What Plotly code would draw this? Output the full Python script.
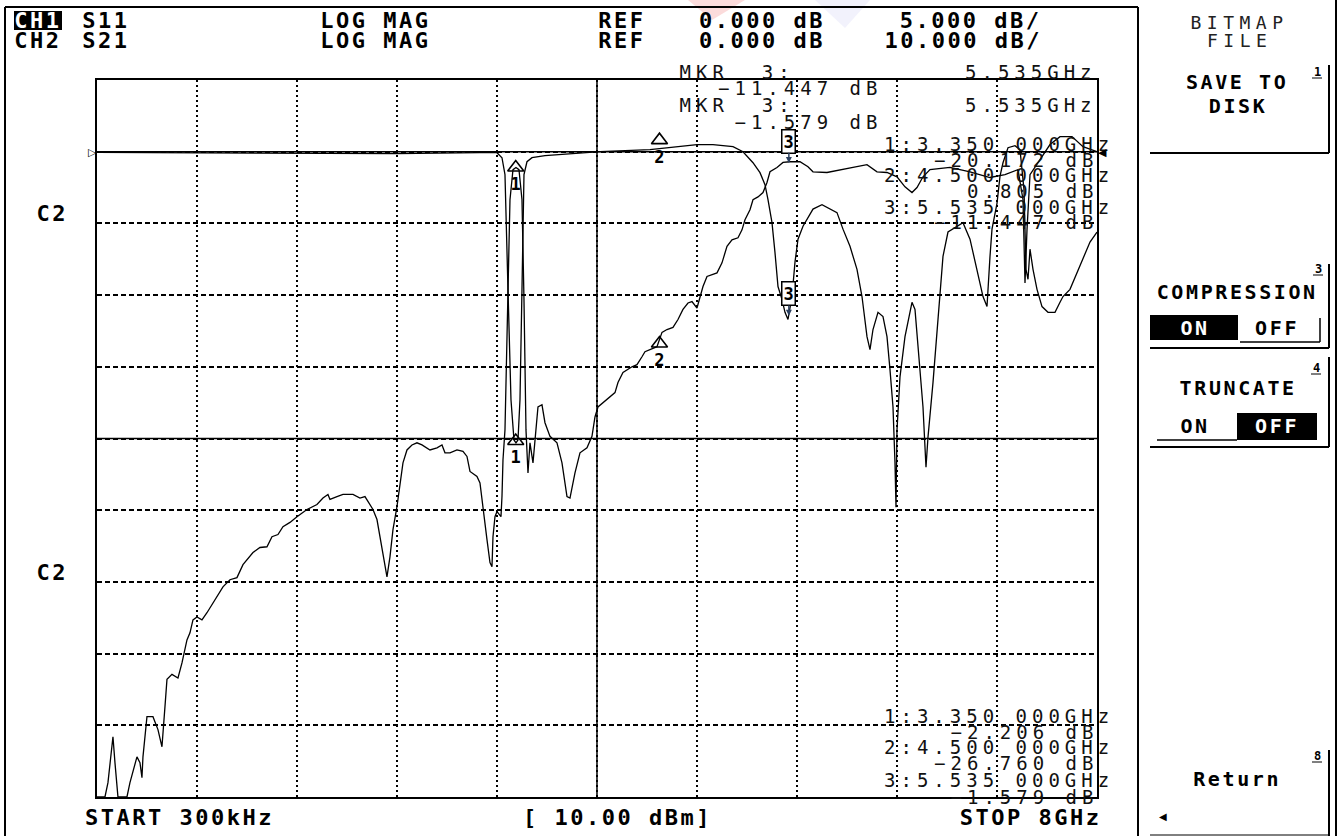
import plotly.graph_objects as go

# ---------------- data (GHz, dB) ----------------
freq_s21 = [0.0003, 0.064, 0.088, 0.12, 0.128, 0.144, 0.168, 0.24, 0.264, 0.32, 0.344, 0.36, 0.368, 0.40, 0.448,
            0.488, 0.52, 0.544, 0.56, 0.60, 0.648, 0.68, 0.72, 0.744, 0.768, 0.80, 0.84, 0.88, 0.928, 1.008,
            1.064, 1.12, 1.168, 1.248, 1.304, 1.36, 1.40, 1.448, 1.488, 1.544, 1.60, 1.68, 1.76, 1.808, 1.848,
            1.864, 1.92, 1.968, 2.048, 2.104, 2.144, 2.168, 2.208, 2.24, 2.28, 2.32, 2.344, 2.368, 2.40, 2.424,
            2.448, 2.48, 2.52, 2.56, 2.60, 2.664, 2.72, 2.76, 2.784, 2.824, 2.88, 2.928, 2.96, 2.984, 3.04,
            3.064, 3.088, 3.12, 3.144, 3.16, 3.168, 3.184, 3.20, 3.232, 3.24, 3.248, 3.264, 3.288, 3.304, 3.328,
            3.352, 3.376, 3.40, 3.416, 3.432, 3.448, 3.464, 3.488, 3.528, 3.56, 3.584, 3.624, 3.68, 3.72, 3.76,
            3.784, 3.824, 3.864, 3.92, 3.96, 3.984, 4.008, 4.08, 4.144, 4.168, 4.208, 4.28, 4.32, 4.36, 4.384,
            4.48, 4.52, 4.56, 4.608, 4.648, 4.688, 4.728, 4.76, 4.80, 4.824, 4.848, 4.88, 4.96, 5.00, 5.04,
            5.08, 5.128, 5.16, 5.184, 5.224, 5.248, 5.288, 5.328, 5.36, 5.384, 5.44, 5.488, 5.544, 5.624, 5.688,
            5.728, 5.84, 5.944, 6.048, 6.16, 6.24, 6.32, 6.40, 6.464, 6.52, 6.56, 6.608, 6.664, 6.824, 6.984,
            7.144, 7.264, 7.368, 7.408, 7.424, 7.44, 7.464, 7.544, 7.624, 7.704, 7.80, 7.888, 8.0]
s21_db = [-90.0, -90.0, -88.0, -83.4, -81.6, -85.2, -90.0, -90.0, -88.0, -84.4, -85.2, -87.3, -84.4, -78.8, -78.8,
          -80.6, -83.0, -77.4, -73.6, -72.9, -73.4, -71.3, -68.1, -67.1, -65.3, -64.9, -65.3, -64.3, -62.9, -60.7,
          -59.7, -59.4, -57.6, -55.9, -55.2, -55.1, -53.7, -53.4, -52.3, -51.7, -50.9, -49.9, -49.2, -48.3, -47.8,
          -48.5, -48.1, -47.8, -47.8, -48.3, -48.1, -48.8, -49.9, -51.3, -55.1, -59.3, -56.5, -52.7, -49.5, -46.2,
          -43.4, -41.6, -40.9, -40.6, -40.9, -41.6, -41.3, -40.9, -42.0, -42.0, -41.6, -41.8, -42.5, -44.6, -45.3,
          -46.2, -49.9, -54.1, -57.3, -57.9, -53.7, -50.9, -50.2, -50.9, -48.1, -43.0, -38.8, -20.6, -6.7, -2.5,
          -2.2, -2.5, -6.7, -20.6, -38.8, -44.8, -40.6, -43.4, -35.6, -35.3, -37.8, -39.7, -40.6, -43.4, -48.1,
          -48.3, -44.8, -42.0, -41.3, -39.7, -37.0, -35.6, -34.6, -33.6, -32.2, -30.8, -30.0, -29.7, -28.6, -27.9,
          -27.2, -25.2, -24.8, -24.5, -23.4, -22.0, -21.1, -20.9, -21.8, -20.2, -18.8, -17.4, -16.9, -15.5, -13.2,
          -12.3, -12.0, -10.9, -9.5, -8.1, -6.7, -6.3, -5.7, -4.3, -2.8, -2.2, -1.5, -1.4, -1.4, -2.1,
          -2.8, -2.9, -2.5, -2.2, -1.8, -2.8, -2.9, -3.5, -4.9, -5.7, -5.0, -3.5, -2.5, -2.2, -2.8,
          -3.6, -3.2, -2.5, -6.7, -18.3, -10.9, -3.2, -1.1, 1.0, 2.1, 2.1, 0.7, 0.0]

freq_s11 = [0.0003, 0.8, 1.6, 2.4, 3.064, 3.2, 3.24, 3.264, 3.288, 3.312, 3.336, 3.352, 3.368, 3.384, 3.40,
            3.416, 3.44, 3.48, 3.584, 3.864, 4.024, 4.424, 4.80, 4.928, 5.088, 5.168, 5.248, 5.304, 5.344, 5.368,
            5.40, 5.424, 5.448, 5.48, 5.504, 5.528, 5.56, 5.584, 5.608, 5.648, 5.728, 5.80, 5.92, 5.968, 6.024,
            6.08, 6.12, 6.16, 6.184, 6.208, 6.248, 6.288, 6.32, 6.344, 6.368, 6.384, 6.392, 6.40, 6.424, 6.464,
            6.52, 6.544, 6.568, 6.608, 6.632, 6.648, 6.688, 6.728, 6.768, 6.808, 6.88, 6.928, 6.984, 7.04, 7.088,
            7.12, 7.128, 7.144, 7.16, 7.20, 7.224, 7.248, 7.288, 7.344, 7.384, 7.416, 7.432, 7.448, 7.464, 7.488,
            7.52, 7.56, 7.608, 7.664, 7.704, 7.728, 7.784, 7.84, 7.888, 7.944, 8.0]
s11_db = [-0.05, -0.07, -0.1, -0.14, -0.07, -0.07, -0.42, -1.6, -9.6, -17.3, -20.1, -20.3, -20.1, -17.3, -9.6,
          -1.6, -0.7, -0.42, -0.28, -0.07, 0.0, 0.14, 0.49, 0.49, 0.35, 0.0, -0.77, -1.46, -2.3, -3.35,
          -4.95, -7.04, -9.4, -10.3, -11.2, -11.7, -10.1, -7.7, -6.1, -5.2, -4.0, -3.7, -4.25, -5.4, -6.6,
          -8.2, -10.1, -12.9, -13.8, -12.4, -11.2, -11.5, -12.9, -15.2, -17.8, -21.7, -24.8, -19.4, -15.7, -12.9,
          -10.5, -11.0, -13.6, -17.8, -22.0, -19.9, -16.1, -11.5, -7.3, -5.6, -5.2, -4.95, -6.1, -8.2, -10.1,
          -10.8, -9.4, -7.3, -5.4, -3.6, -1.7, -0.77, 0.28, 0.42, 0.14, -2.65, -8.2, -8.9, -6.8, -8.2,
          -9.6, -10.8, -11.2, -11.2, -10.5, -10.1, -9.6, -8.4, -7.5, -6.3, -5.6]

marker_freq = [3.35, 4.5, 5.535]
marker_s11 = [-20.172, 0.805, -11.447]
marker_s21 = [-2.206, -26.760, -1.579]
marker_labels = ["1", "2", "3"]

start_label = "START 300kHz"
stop_label = "STOP 8GHz"
power_label = "[ 10.00 dBm]"

# ---------------- layout helpers (pixel -> paper) ----------------
L, R, T, B = 97, 1097, 80, 797
def X(px):
    return (px - L) / (R - L)
def Y(py):
    return (B - py) / (B - T)

# font kinds: (font dict, char advance, letter spacing applied by script)
KINDS = {
    "bold": (dict(family="DejaVu Sans Mono", size=22, color="black", weight="bold"), 13.25, 2.5),
    "thin": (dict(family="DejaVu Sans Mono", size=19, color="#111111"), 11.44, 5.0),
    "sk": (dict(family="DejaVu Sans Mono", size=20, color="black", weight="bold"), 12.04, 2.6),
    "skthin": (dict(family="DejaVu Sans Mono", size=18, color="#222222"), 10.84, 5.5),
}

ann = []

def ptxt(py, s, kind, left=None, right=None, center=None, color=None):
    font, adv, sp = KINDS[kind]
    f = dict(font)
    if color:
        f["color"] = color
    w = len(s) * (adv + sp) - sp
    if center is None:
        center = left + w / 2 if left is not None else right - w / 2
    ann.append(dict(x=X(center), y=Y(py), xref="paper", yref="paper", text=s, showarrow=False,
                    xanchor="center", yanchor="middle", font=f))

def stxt(px, py, s, font):
    ann.append(dict(x=X(px), y=Y(py), xref="paper", yref="paper", text=s, showarrow=False,
                    xanchor="center", yanchor="middle", font=font))

fig = go.Figure()
fig.add_trace(go.Scatter(x=freq_s11, y=s11_db, mode="lines", line=dict(color="black", width=1.3),
                         yaxis="y", showlegend=False, hoverinfo="skip"))
fig.add_trace(go.Scatter(x=freq_s21, y=s21_db, mode="lines", line=dict(color="black", width=1.3),
                         yaxis="y2", showlegend=False, hoverinfo="skip"))

MK_FONT = dict(family="DejaVu Sans Mono", size=17, color="black", weight="bold")
for yax, vals in (("y", marker_s11), ("y2", marker_s21)):
    fig.add_trace(go.Scatter(x=marker_freq[:2], y=vals[:2], mode="markers+text", yaxis=yax,
                             text=marker_labels[:2], textposition="bottom center", textfont=MK_FONT,
                             marker=dict(symbol="triangle-up-open", size=14, color="black", line=dict(width=1.6)),
                             showlegend=False, hoverinfo="skip"))
    ann.append(dict(x=marker_freq[2], y=vals[2], xref="x", yref=yax, text=marker_labels[2],
                    showarrow=True, arrowhead=2, arrowsize=0.8, arrowwidth=1.5, ax=0, ay=-22,
                    bordercolor="black", borderwidth=1.5, borderpad=1, bgcolor="white", font=MK_FONT))

# header
ptxt(20, "CH1", "bold", center=38, color="white")
ptxt(20, "S11", "bold", left=84)
ptxt(20, "LOG MAG", "bold", left=322)
ptxt(20, "REF", "bold", left=600)
ptxt(20, "0.000 dB", "bold", left=700)
ptxt(20, "5.000 dB/", "bold", right=1040)
ptxt(40, "CH2", "bold", left=16)
ptxt(40, "S21", "bold", left=84)
ptxt(40, "LOG MAG", "bold", left=322)
ptxt(40, "REF", "bold", left=600)
ptxt(40, "0.000 dB", "bold", left=700)
ptxt(40, "10.000 dB/", "bold", right=1040)

# left labels
ptxt(213, "C2", "bold", center=52)
ptxt(572, "C2", "bold", center=52)

# marker readouts
fs = lambda v: ("%.3f" % v).replace("-", "\u2212")
ptxt(72, "MKR  3:", "thin", left=682)
ptxt(72, "%.3fGHz" % marker_freq[2], "thin", right=1094)
ptxt(88, fs(marker_s11[2]) + " dB", "thin", right=880)
ptxt(105, "MKR  3:", "thin", left=682)
ptxt(105, "%.3fGHz" % marker_freq[2], "thin", right=1094)
ptxt(122, fs(marker_s21[2]) + " dB", "thin", right=880)
top_rows = [144, 160, 175, 191, 207, 222]
bot_rows = [716, 732, 747, 763, 780, 797]
for i in range(3):
    ptxt(top_rows[2 * i], "%s:%.3f 000GHz" % (marker_labels[i], marker_freq[i]), "thin", right=1112)
    ptxt(top_rows[2 * i + 1], fs(marker_s11[i]) + " dB", "thin", right=1096)
    ptxt(bot_rows[2 * i], "%s:%.3f 000GHz" % (marker_labels[i], marker_freq[i]), "thin", right=1112)
    ptxt(bot_rows[2 * i + 1], fs(marker_s21[i]) + " dB", "thin", right=1096)

# bottom row
ptxt(818, start_label, "bold", left=86)
ptxt(818, power_label, "bold", left=524)
ptxt(818, stop_label, "bold", right=1100)

# reference pointers
stxt(92, 152, "\u25B7", dict(family="DejaVu Sans", size=11, color="black"))
stxt(1102, 152, "\u25C0", dict(family="DejaVu Sans", size=11, color="black"))

# softkey panel
SMALL = dict(family="DejaVu Sans Mono", size=12, color="black", weight="bold")
ptxt(23, "BITMAP", "skthin", center=1239)
ptxt(41, "FILE", "skthin", center=1239)
ptxt(82, "SAVE TO", "sk", center=1237)
ptxt(106, "DISK", "sk", center=1238)
stxt(1317, 72, "1", SMALL)
ptxt(292, "COMPRESSION", "sk", center=1237)
stxt(1318, 269, "3", SMALL)
ptxt(328, "ON", "sk", center=1195, color="white")
ptxt(328, "OFF", "sk", center=1277)
ptxt(388, "TRUNCATE", "sk", center=1238)
stxt(1316, 368, "4", SMALL)
ptxt(426, "ON", "sk", center=1195)
ptxt(426, "OFF", "sk", center=1277, color="white")
ptxt(779, "Return", "sk", center=1237)
stxt(1317, 756, "8", SMALL)
stxt(1163, 816, "\u25C0", dict(family="DejaVu Sans", size=10, color="black"))

shapes = []
def line(x0, y0, x1, y1, w=1.5):
    shapes.append(dict(type="line", xref="paper", yref="paper", x0=X(x0), y0=Y(y0), x1=X(x1), y1=Y(y1),
                       line=dict(color="black", width=w)))
def rect(x0, y0, x1, y1, fill="black"):
    shapes.append(dict(type="rect", xref="paper", yref="paper", x0=X(x0), y0=Y(y0), x1=X(x1), y1=Y(y1),
                       line=dict(width=0), fillcolor=fill, layer="below"))

# faint watermark at the top
shapes.append(dict(type="path", xref="paper", yref="paper",
                   path="M %f %f L %f %f L %f %f Z" % (X(688), Y(0), X(745), Y(0), X(712), Y(20)),
                   fillcolor="rgba(235,90,90,0.22)", line=dict(width=0), layer="below"))
shapes.append(dict(type="path", xref="paper", yref="paper",
                   path="M %f %f L %f %f L %f %f Z" % (X(815), Y(0), X(870), Y(0), X(845), Y(28)),
                   fillcolor="rgba(130,130,230,0.10)", line=dict(width=0), layer="below"))

# screen frame
line(5, 7, 1138, 7, 2)
line(5, 7, 5, 836, 2)
line(1138, 7, 1138, 836, 2)
line(1336, 0, 1336, 836, 2)
# CH1 highlight
rect(14, 11, 62, 30)
# softkey brackets
line(1329, 65, 1329, 153, 2); line(1150, 153, 1329, 153, 2); line(1312, 78, 1322, 78, 1)
line(1329, 264, 1329, 348, 2); line(1150, 348, 1329, 348, 2); line(1313, 275, 1323, 275, 1)
rect(1150, 315, 1238, 340)
line(1240, 342, 1320, 342, 1.5); line(1320, 318, 1320, 342, 1.5)
line(1329, 357, 1329, 447, 2); line(1150, 447, 1329, 447, 2); line(1311, 374, 1321, 374, 1)
line(1157, 440, 1237, 440, 1.5)
rect(1237, 413, 1317, 440)
line(1329, 750, 1329, 836, 2); line(1150, 835, 1329, 835, 1); line(1312, 762, 1322, 762, 1)

# reference line (0 dB) and centre lines, in data coordinates
shapes.append(dict(type="line", xref="paper", yref="y", x0=0.0, x1=1.0, y0=0, y1=0,
                   line=dict(color="black", width=1.5)))
shapes.append(dict(type="line", xref="paper", yref="y", x0=0.0, x1=1.0, y0=-20, y1=-20,
                   line=dict(color="black", width=1.5)))
shapes.append(dict(type="line", xref="x", yref="paper", x0=4.0, x1=4.0, y0=0, y1=1,
                   line=dict(color="black", width=1.5)))

fig.update_layout(
    width=1341, height=836, autosize=False,
    margin=dict(l=L, r=1341 - R, t=T, b=836 - B),
    paper_bgcolor="white", plot_bgcolor="white",
    showlegend=False,
    xaxis=dict(range=[0.0003, 8.0], tick0=0.0003, dtick=0.79997, showticklabels=False, ticks="",
               showgrid=True, gridcolor="black", gridwidth=1.6, griddash="2px,3px",
               showline=True, linecolor="black", linewidth=2, mirror=True, zeroline=False, fixedrange=True),
    yaxis=dict(range=[-45, 5], dtick=5, showticklabels=False, ticks="",
               showgrid=True, gridcolor="black", gridwidth=1.5, griddash="5px,3px",
               showline=True, linecolor="black", linewidth=2, mirror=True, zeroline=False, fixedrange=True),
    yaxis2=dict(range=[-90, 10], overlaying="y", visible=False, fixedrange=True),
    annotations=ann, shapes=shapes,
)

spacing_map = "{" + ",".join('"%g":%g' % (v[0]["size"], v[2]) for v in KINDS.values()) + "}"
post = """
document.body.style.margin = '0px';
var gd = document.getElementById('{plot_id}');
var SP = %s;
function applySpacing() {
  document.querySelectorAll('.annotation-text').forEach(function (el) {
    var fsz = String(parseFloat(el.style.fontSize));
    if (SP[fsz] !== undefined) { el.style.letterSpacing = SP[fsz] + 'px'; }
  });
}
applySpacing();
if (gd && gd.on) { gd.on('plotly_afterplot', applySpacing); }
setTimeout(applySpacing, 50);
""" % spacing_map

fig.write_html("out.html", post_script=post, config={"responsive": False, "displayModeBar": False})
